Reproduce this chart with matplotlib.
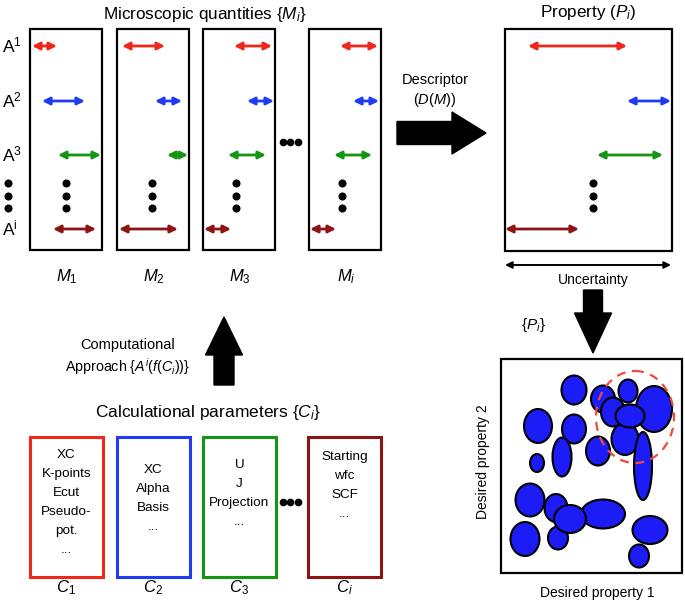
import matplotlib
matplotlib.use("Agg")
import matplotlib.pyplot as plt
from matplotlib.patches import Rectangle, Ellipse, FancyArrowPatch

plt.rcParams['font.family'] = ['Liberation Sans', 'DejaVu Sans']
plt.rcParams['mathtext.fontset'] = 'custom'
plt.rcParams['mathtext.rm'] = 'Liberation Sans'
plt.rcParams['mathtext.it'] = 'Liberation Sans:italic'
plt.rcParams['mathtext.bf'] = 'Liberation Sans:bold'

# kolory poziomów teorii A^1..A^i
kolory = ['#f0281c', '#1f3cf2', '#149614', '#8e1414']
wypelnienie = '#1c1cf6'

# zakresy strzałek (x od, x do) w każdym panelu M, wiersze A1, A2, A3, Ai
panele_M = ['$M_\\mathit{1}$', '$M_\\mathit{2}$', '$M_\\mathit{3}$', '$M_i$']
zakresy_M = [
    [(32, 57), (42, 85), (58, 101), (53, 96)],
    [(122, 165), (155, 182), (167, 188), (119, 178)],
    [(234, 272), (247, 274), (228, 266), (204, 231)],
    [(340, 378), (353, 379), (334, 372), (310, 336)],
]
kropki_M = [66, 152, 236, 342]
wiersze_A = ['A$^1$', 'A$^2$', 'A$^3$', 'A$^\\mathrm{i}$']
zakresy_P = [(528, 627), (627, 671), (597, 663), (505, 579)]

# parametry obliczeniowe C
panele_C = ['$C_\\mathit{1}$', '$C_\\mathit{2}$', '$C_\\mathit{3}$', '$C_i$']
teksty_C = [
    ['XC', 'K-points', 'Ecut', 'Pseudo-', 'pot.', '...'],
    ['XC', 'Alpha', 'Basis', '...'],
    ['U', 'J', 'Projection', '...'],
    ['Starting', 'wfc', 'SCF', '...'],
]
start_C = [455, 470, 465, 457]

# elipsy w przestrzeni własności (x, y, szer, wys)
elipsy = [
    (574, 390, 25, 29), (538, 426, 28, 34), (574, 429, 24, 29),
    (562, 457, 19, 39), (537, 463, 14, 18), (598, 451, 24, 29),
    (603, 399, 24, 27), (628, 391, 19, 23), (654, 409, 36, 46),
    (625, 439, 27, 32), (643, 466, 18, 68), (613, 412, 24, 29),
    (630, 416, 29, 23),
    (530, 500, 29, 33), (556, 508, 23, 28), (603, 514, 44, 29),
    (558, 538, 20, 23), (570, 519, 32, 28), (525, 539, 29, 34),
    (650, 530, 35, 28), (639, 556, 20, 23),
]

fig = plt.figure(figsize=(6.85, 6.06), dpi=100)
ax = fig.add_axes([0, 0, 1, 1])
ax.set_xlim(0, 685)
ax.set_ylim(606, 0)
ax.axis('off')

wiersze_y = [46, 101, 155, 229]
lewe_M = [30, 117, 203, 309]
lewe_C = [30, 117, 203, 308]


def strzalka(x0, x1, y, kolor, lw=2.0, ms=11):
    ax.add_patch(FancyArrowPatch((x0, y), (x1, y), arrowstyle='<|-|>',
                                 mutation_scale=ms, color=kolor, lw=lw,
                                 shrinkA=0, shrinkB=0))


def kropki_pion(x, y0=183):
    ax.plot([x, x, x], [y0, y0 + 12.5, y0 + 25], 'o', color='black', ms=4.8)


# panel mikroskopowy
ax.text(205, 14, 'Microscopic quantities {$M_i$}', ha='center', va='center', fontsize=12.3)
for nr, lx in enumerate(lewe_M):
    ax.add_patch(Rectangle((lx, 29), 72, 221, fill=False, lw=1.6, ec='black'))
    for k, (x0, x1) in enumerate(zakresy_M[nr]):
        strzalka(x0, x1, wiersze_y[k], kolory[k])
    kropki_pion(kropki_M[nr])
    ax.text(lx + 37, 277, panele_M[nr], ha='center', va='center', fontsize=12)
for k, etykieta in enumerate(wiersze_A):
    ax.text(2, wiersze_y[k] - 1, etykieta, ha='left', va='center', fontsize=12.5)
kropki_pion(8)
ax.plot([283, 290.5, 298], [142, 142, 142], 'o', color='black', ms=4.5)

# deskryptor
ax.text(435, 80, 'Descriptor', ha='center', va='center', fontsize=10.5)
ax.text(435, 100, '($D(M)$)', ha='center', va='center', fontsize=10.5)
ax.arrow(397, 133, 89, 0, width=23, head_width=42, head_length=34,
         length_includes_head=True, fc='black', ec='black')

# panel własności
ax.text(588, 13, 'Property ($P_i$)', ha='center', va='center', fontsize=12.3)
ax.add_patch(Rectangle((505, 29), 167, 222, fill=False, lw=1.6, ec='black'))
for k, (x0, x1) in enumerate(zakresy_P):
    strzalka(x0, x1, wiersze_y[k], kolory[k])
kropki_pion(593)
strzalka(505, 671, 265, 'black', lw=1.4, ms=10)
ax.text(593, 280, 'Uncertainty', ha='center', va='center', fontsize=10)
ax.arrow(593, 290, 0, 63, width=19, head_width=37, head_length=40,
         length_includes_head=True, fc='black', ec='black')
ax.text(533, 325, '{$P_i$}', ha='center', va='center', fontsize=11)

# przestrzeń własności
ax.add_patch(Rectangle((501, 359), 181, 214, fill=False, lw=1.6, ec='black'))
for (x, y, w, h) in elipsy:
    ax.add_patch(Ellipse((x, y), w, h, fc=wypelnienie, ec='black', lw=1.5))
ax.add_patch(Ellipse((635, 417), 78, 92, fill=False, ec='#f04a3c', lw=1.6,
                     ls=(0, (4, 3))))
ax.text(483, 462, 'Desired property 2', rotation=90, ha='center', va='center', fontsize=10)
ax.text(597, 593, 'Desired property 1', ha='center', va='center', fontsize=10)

# podejście obliczeniowe
ax.arrow(224, 385, 0, -68, width=20, head_width=37, head_length=38,
         length_includes_head=True, fc='black', ec='black')
ax.text(128, 345, 'Computational', ha='center', va='center', fontsize=10.5)
ax.text(128, 367, 'Approach {$A^i(f(C_i))$}', ha='center', va='center', fontsize=10.3)
ax.text(208, 413, 'Calculational parameters {$C_i$}', ha='center', va='center', fontsize=12.5)

for nr, lx in enumerate(lewe_C):
    ax.add_patch(Rectangle((lx, 437), 73, 140, fill=False, lw=2.2, ec=kolory[nr]))
    for j, linia in enumerate(teksty_C[nr]):
        ax.text(lx + 36.5, start_C[nr] + j * 19, linia, ha='center', va='center',
                fontsize=9.7)
    ax.text(lx + 36, 588, panele_C[nr], ha='center', va='center', fontsize=12)
ax.plot([283, 290.5, 298], [502, 502, 502], 'o', color='black', ms=4.5)

fig.savefig('out.png', dpi=100)
